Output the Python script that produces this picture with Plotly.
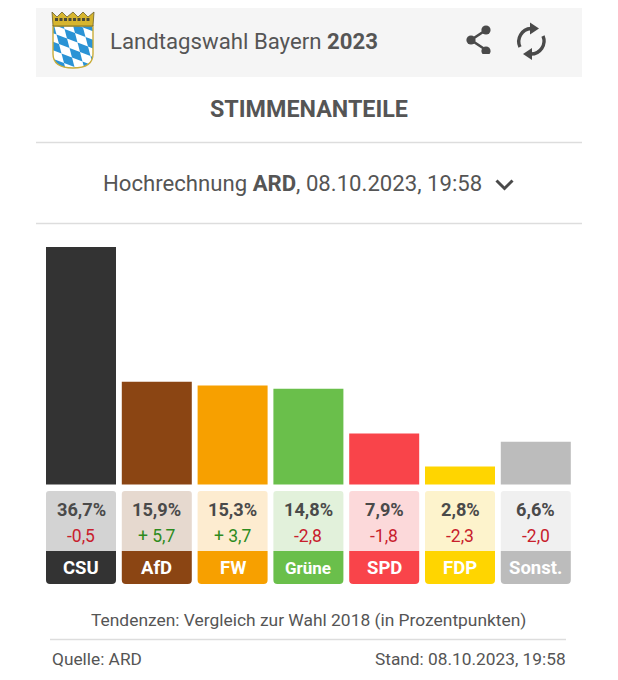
"""Landtagswahl Bayern 2023 - Stimmenanteile"""
import base64
import plotly.graph_objects as go

# Daten
parteien = ["CSU", "AfD", "FW", "Grüne", "SPD", "FDP", "Sonst."]
anteile = [36.7, 15.9, 15.3, 14.8, 7.9, 2.8, 6.6]
tendenzen = [-0.5, 5.7, 3.7, -2.8, -1.8, -2.3, -2.0]

# Farben
farben = ["#333333", "#8b4513", "#f7a000", "#6abf4b", "#f9444a", "#ffd500", "#bcbcbc"]
farben_hell = ["#d3d3d3", "#e6d9cf", "#fdecd0", "#e2f1db", "#fcd9da", "#fdf3cc", "#f0f0f0"]

W, H = 618, 680
GRAU = "#555555"
BALKEN_X0 = 81       # Mitte erster Balken
BALKEN_ABSTAND = 75.8
BALKEN_BREITE = 70
NULL_Y = 484.5       # Grundlinie
PX_PRO_PROZENT = 6.47


def px(x):
    return x / W


def py(y):
    return 1 - y / H


def svg_bild(svg, x, y, breite, hoehe):
    """SVG als Layout-Bild, Position in Pixeln"""
    kodiert = base64.b64encode(svg.encode()).decode()
    return dict(source="data:image/svg+xml;base64," + kodiert, xref="paper", yref="paper",
                x=px(x), y=py(y), sizex=breite / W, sizey=hoehe / H, xanchor="left",
                yanchor="top", sizing="stretch", layer="above")


def text(x, y, inhalt, groesse, farbe=GRAU, anker="center"):
    return dict(x=px(x), y=py(y), xref="paper", yref="paper", text=inhalt, showarrow=False,
                xanchor=anker, yanchor="middle", align=anker,
                font=dict(family="Roboto", size=groesse, color=farbe))


def rechteck(x0, y0, x1, y1, farbe):
    return dict(type="rect", xref="paper", yref="paper", x0=px(x0), x1=px(x1), y0=py(y1), y1=py(y0),
                fillcolor=farbe, line_width=0, layer="below")


def linie(x0, y, x1, farbe="#dddddd"):
    return dict(type="line", xref="paper", yref="paper", x0=px(x0), x1=px(x1), y0=py(y), y1=py(y),
                line=dict(color=farbe, width=1.5), layer="below")


def kachel(x0, y0, x1, y1, farbe, r_oben, r_unten):
    """Rechteck mit abgerundeten Ecken oben oder unten"""
    p = [
        f"M {px(x0 + r_oben)} {py(y0)}",
        f"L {px(x1 - r_oben)} {py(y0)}",
        f"Q {px(x1)} {py(y0)} {px(x1)} {py(y0 + r_oben)}",
        f"L {px(x1)} {py(y1 - r_unten)}",
        f"Q {px(x1)} {py(y1)} {px(x1 - r_unten)} {py(y1)}",
        f"L {px(x0 + r_unten)} {py(y1)}",
        f"Q {px(x0)} {py(y1)} {px(x0)} {py(y1 - r_unten)}",
        f"L {px(x0)} {py(y0 + r_oben)}",
        f"Q {px(x0)} {py(y0)} {px(x0 + r_oben)} {py(y0)}",
        "Z",
    ]
    return dict(type="path", xref="paper", yref="paper", path=" ".join(p), fillcolor=farbe,
                line_width=0, layer="below")


def tendenz_text(wert):
    zahl = f"{abs(wert):.1f}".replace(".", ",")
    return f"+ {zahl}" if wert > 0 else f"-{zahl}"


# Wappen
rauten = ""
a, b = (10.5, 4.0), (2.5, 9.5)
for i in range(-7, 8):
    for j in range(-7, 8):
        if (i + j) % 2 != 0:
            x = 4 + i * a[0] + j * b[0]
            y = 15 + i * a[1] + j * b[1]
            rauten += (f'<polygon points="{x},{y} {x + a[0]},{y + a[1]} {x + a[0] + b[0]},{y + a[1] + b[1]} '
                       f'{x + b[0]},{y + b[1]}" fill="#2a93d5"/>')
SCHILD = "M3 16 L43 16 L43 44 Q43 58 23 58 Q3 58 3 44 Z"
wappen = f'''<svg xmlns="http://www.w3.org/2000/svg" width="192" height="240" viewBox="0 0 48 60">
<defs><clipPath id="c"><path d="{SCHILD}"/></clipPath></defs>
<path d="{SCHILD}" fill="#ffffff"/>
<g clip-path="url(#c)">{rauten}</g>
<path d="{SCHILD}" fill="none" stroke="#c9ad3a" stroke-width="1.4"/>
<path d="M2 2 L7 7 L12 2 L17 7 L23 2 L28 7 L33 2 L38 7 L44 2 L43 16 L3 16 Z" fill="#d6b52e" stroke="#6b5f2a" stroke-width="0.8"/>
<path d="M5 9.5 L41 9.5" stroke="#4a4a38" stroke-width="3" stroke-dasharray="3 1.5"/>
</svg>'''

teilen = '''<svg xmlns="http://www.w3.org/2000/svg" width="120" height="120" viewBox="0 0 30 30">
<path d="M21 6 L6 16 L21 26" fill="none" stroke="#4a4a4a" stroke-width="2.6"/>
<circle cx="21" cy="6" r="4.6" fill="#4a4a4a"/>
<circle cx="6" cy="16" r="4.6" fill="#4a4a4a"/>
<circle cx="21" cy="27" r="4.6" fill="#4a4a4a"/>
</svg>'''

aktualisieren = '''<svg xmlns="http://www.w3.org/2000/svg" width="160" height="160" viewBox="0 0 40 40">
<path d="M9 26 A13 13 0 0 1 20 7.5" fill="none" stroke="#4a4a4a" stroke-width="3.4"/>
<path d="M32 15 A13 13 0 0 1 20 33" fill="none" stroke="#4a4a4a" stroke-width="3.4"/>
<polygon points="19,1.5 19,13.5 28,7.5" fill="#4a4a4a"/>
<polygon points="21,27 21,39 12,33" fill="#4a4a4a"/>
</svg>'''

# Balken
fig = go.Figure(go.Bar(x=parteien, y=anteile, marker=dict(color=farben, line_width=0), hoverinfo="skip"))

formen = [
    rechteck(36, 8, 582, 77, "#f5f5f5"),
    linie(36, 142.5, 582),
    linie(36, 223.5, 582),
    linie(50, 639.5, 566),
    # Pfeil nach unten
    dict(type="path", xref="paper", yref="paper", line=dict(color="#4a4a4a", width=3),
         path=f"M {px(496.5)} {py(180.5)} L {px(504.5)} {py(188.5)} L {px(512.5)} {py(180.5)}"),
]
texte = [
    text(108, 40.5, "Landtagswahl Bayern <b>2023</b>", 22.2, anker="left"),
    text(308.5, 109.5, "<b>STIMMENANTEILE</b>", 23.3),
    text(292.3, 183.5, "Hochrechnung <b>ARD</b>, 08.10.2023, 19:58", 22.15),
    text(308.5, 619.5, "Tendenzen: Vergleich zur Wahl 2018 (in Prozentpunkten)", 17.4),
    text(50, 659, "Quelle: ARD", 17.3, anker="left"),
    text(568, 659, "Stand: 08.10.2023, 19:58", 17.3, anker="right"),
]

# Kacheln unter den Balken
for i, partei in enumerate(parteien):
    mitte = BALKEN_X0 + i * BALKEN_ABSTAND
    x0, x1 = mitte - BALKEN_BREITE / 2, mitte + BALKEN_BREITE / 2
    formen.append(kachel(x0, 491, x1, 551, farben_hell[i], 3, 0))
    formen.append(kachel(x0, 551, x1, 584, farben[i], 0, 4))
    wert = f"{anteile[i]:.1f}".replace(".", ",") + "%"
    texte.append(text(mitte, 509.5, f"<b>{wert}</b>", 18.2, "#4a4a4a"))
    farbe = "#2e8b1e" if tendenzen[i] > 0 else "#c8202c"
    texte.append(text(mitte, 535.5, tendenz_text(tendenzen[i]), 17.5, farbe))
    groesse = 17 if partei == "Grüne" else 18.5
    texte.append(text(mitte, 568, f"<b>{partei}</b>", groesse, "#ffffff"))

fig.update_layout(
    width=W,
    height=H,
    margin=dict(l=0, r=0, t=0, b=0),
    paper_bgcolor="white",
    plot_bgcolor="rgba(0,0,0,0)",
    showlegend=False,
    bargap=1 - BALKEN_BREITE / BALKEN_ABSTAND,
    xaxis=dict(visible=False, type="category", categoryorder="array", categoryarray=parteien,
               range=[-BALKEN_X0 / BALKEN_ABSTAND, (W - BALKEN_X0) / BALKEN_ABSTAND]),
    yaxis=dict(visible=False, range=[-(H - NULL_Y) / PX_PRO_PROZENT, NULL_Y / PX_PRO_PROZENT]),
    shapes=formen,
    annotations=texte,
    images=[
        svg_bild(wappen, 50, 10, 48, 60),
        svg_bild(teilen, 465, 24, 30, 30),
        svg_bild(aktualisieren, 511, 21, 40, 40),
    ],
)

fig.write_html("out.html", config=dict(displayModeBar=False),
               post_script="document.body.style.margin='0';")
